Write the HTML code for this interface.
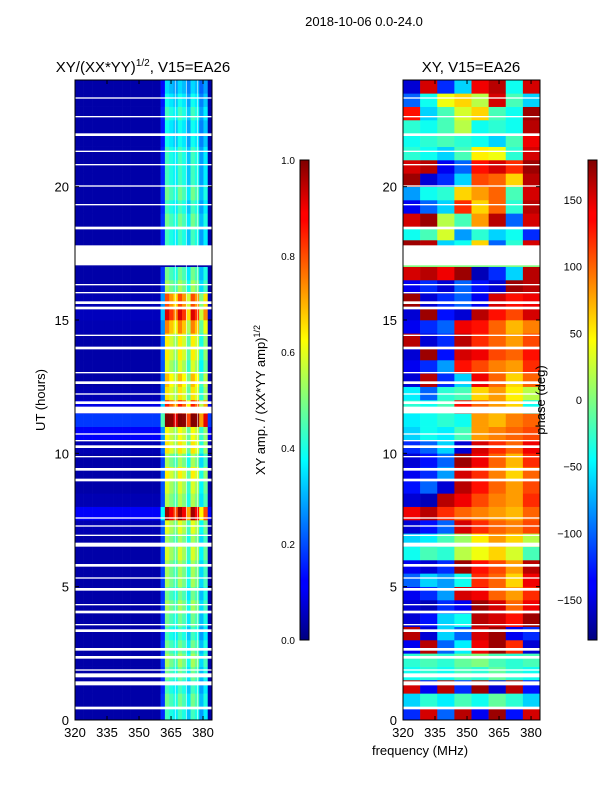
<!DOCTYPE html>
<html><head><meta charset="utf-8"><style>
body{margin:0;background:#fff;}
svg text{font-family:"Liberation Sans",sans-serif;fill:#000;}
</style></head><body>
<svg id="fig" width="600" height="800" xmlns="http://www.w3.org/2000/svg">
<defs>
<linearGradient id="jet" x1="0" y1="1" x2="0" y2="0">
<stop offset="0" stop-color="#00007f"/><stop offset="0.11" stop-color="#0000ff"/><stop offset="0.125" stop-color="#0000ff"/>
<stop offset="0.34" stop-color="#00dcff"/><stop offset="0.375" stop-color="#00ffff"/><stop offset="0.5" stop-color="#7fff7f"/>
<stop offset="0.625" stop-color="#ffff00"/><stop offset="0.66" stop-color="#ffdc00"/><stop offset="0.875" stop-color="#ff0000"/>
<stop offset="0.89" stop-color="#ff0000"/><stop offset="1" stop-color="#7f0000"/>
</linearGradient>
</defs>
<text x="364" y="26" font-size="13" text-anchor="middle">2018-10-06 0.0-24.0</text>
<text x="143" y="72" font-size="15" text-anchor="middle">XY/(XX*YY)<tspan dy="-6" font-size="10">1/2</tspan><tspan dy="6">, V15=EA26</tspan></text>
<text x="471" y="72" font-size="15" text-anchor="middle">XY, V15=EA26</text>
<g id="left"></g>
<g id="right"></g>
<g id="axes"></g>
<text transform="translate(45,400) rotate(-90)" font-size="13" text-anchor="middle">UT (hours)</text>
<text x="420" y="755" font-size="13" text-anchor="middle">frequency (MHz)</text>
<rect x="300" y="160" width="9" height="480" fill="url(#jet)" stroke="#000" stroke-width="1"/>
<rect x="588" y="160" width="9" height="480" fill="url(#jet)" stroke="#000" stroke-width="1"/>
<text transform="translate(265,400) rotate(-90)" font-size="13" text-anchor="middle">XY amp. / (XX*YY amp)<tspan dy="-5" font-size="9">1/2</tspan></text>
<text transform="translate(545,400) rotate(-90)" font-size="13" text-anchor="middle">phase (deg)</text>
</svg>
<script>
const rowGain=[0.4,0.45,0.4,0.45,0.5,0.45,0.4,0.45,0.5,0.45,0.5,0.5,0.55,0.5,0.55,0.85,0.5,0.55,0.6,0.5,0.6,0.5,0.9,0.75,0.6,0.65,0.55,0.6,0.6,0.7,0.85,0.75,0.5,0.45,0,0.4,0.4,0.45,0.4,0.45,0.4,0.4,0.4,0.35,0.35,0.4,0.35,0.3];
const rowBase=[0.04,0.04,0.04,0.04,0.04,0.04,0.04,0.04,0.04,0.04,0.04,0.04,0.04,0.04,0.05,0.12,0.05,0.04,0.04,0.04,0.05,0.12,0.18,0.1,0.05,0.04,0.04,0.04,0.04,0.05,0.06,0.05,0.04,0.04,0.04,0.04,0.04,0.04,0.04,0.04,0.04,0.04,0.04,0.04,0.04,0.04,0.04,0.04];
const colProfile=[0,0,0,0,0,0,0,0,0,0,0,0,0,0,0,0,0,0,0,0,0.3,1.0,0.9,0.8,1.0,0.9,0.7,1.0,0.9,0.6,0.8,0];
const phaseGrid=[
[-120,150,-100,160,-140,170,-130,150],[-60,-30,-50,-20,-40,-10,-30,-60],[150,-140,160,-120,170,-150,160,-130],[-40,-30,-40,-20,-30,-10,-30,-40],
[-30,-20,-30,-10,0,-20,-30,-20],[-140,160,-100,-50,140,170,120,-150],[160,-150,-60,-100,150,170,-140,-120],[-150,-130,-60,-40,160,150,130,170],
[-150,-160,-120,-140,170,150,100,140],[-140,-120,-80,150,140,100,80,120],[-100,-60,-80,-40,120,100,60,140],[-140,-150,-120,170,130,110,80,160],
[-40,-20,-30,20,40,60,30,-20],[-60,-50,-20,10,50,80,60,20],[-150,-130,-100,150,120,100,90,110],[140,160,120,100,90,80,70,100],
[-150,-160,160,140,110,90,80,120],[-130,-100,-150,160,130,100,80,110],[-140,-120,-80,150,120,90,60,100],[-150,-130,-100,170,140,100,70,120],
[-120,-100,-60,-150,150,120,100,140],[-60,-40,-50,-20,80,90,100,110],[-50,-40,-30,-40,80,70,90,100],[-30,-40,-20,130,100,80,60,-40],
[-50,-100,-30,-20,60,80,50,20],[-150,160,-120,-60,140,100,60,100],[-140,-120,-80,130,110,90,80,120],[-150,170,-130,150,140,110,100,130],
[160,-150,-120,160,120,100,80,110],[-140,-120,-100,140,130,100,70,90],[-150,170,-130,-150,160,130,110,150],[170,-150,-120,-100,-140,150,130,140],
[-140,-120,-150,-100,-130,-150,170,160],[150,160,140,170,-160,-120,-60,160],[0,0,0,0,0,0,0,0],[170,160,-60,-40,60,-100,-30,150],
[-40,-20,30,-80,-30,-60,-40,-120],[150,170,20,-20,80,160,-100,150],[-140,-100,-60,120,60,100,-30,160],[-80,-40,-30,60,80,100,-20,150],
[170,-150,-120,-60,110,100,60,160],[150,160,-140,-100,130,150,120,170],[-30,-40,-60,-20,50,40,-30,150],[-40,-30,-20,-30,-40,-60,-20,140],
[-30,-40,-20,20,-40,-30,-40,160],[130,-60,-20,30,60,-20,-40,170],[-100,-40,40,60,20,150,-20,-60],[-150,150,-120,-60,140,160,-40,150]];
const gaps=[[0.4,0.5],[1.3,1.45],[1.6,1.75],[1.85,1.9],[2.3,2.4],[2.6,2.7],[3.3,3.4],[3.55,3.6],[4.0,4.1],[4.3,4.35],[4.85,4.95],[5.3,5.35],[5.75,5.85],[6.5,6.65],[6.9,6.95],[7.25,7.3],[7.55,7.6],[8.95,9.05],[9.35,9.45],[9.85,9.9],[10.2,10.3],[10.45,10.5],[10.7,10.75],[11.5,11.75],[11.85,11.95],[12.2,12.25],[12.6,12.7],[13.0,13.05],[13.9,14.0],[14.4,14.45],[15.4,15.5],[15.6,15.7],[16.0,16.05],[16.3,16.35],[17.05,17.8],[18.4,18.5],[19.3,19.35],[20.0,20.05],[20.8,20.85],[21.3,21.35],[21.9,22.0],[22.6,22.65],[23.3,23.35]];
const yTicks=[0,5,10,15,20];
const xTicks=[320,335,350,365,380];
const ampTicks=[0.0,0.2,0.4,0.6,0.8,1.0];
const phaseTicks=[-150,-100,-50,0,50,100,150];

const NS="http://www.w3.org/2000/svg";
const PY0=80,PY1=720,T0=0,T1=24,F0=320,F1=384.2;
const yOf=t=>PY1-(t-T0)/(T1-T0)*(PY1-PY0);
const xOf=(x0,f)=>x0+(f-F0)/(F1-F0)*137;
function jet(v){v=Math.max(0,Math.min(1,v));const c=a=>Math.round(255*Math.max(0,Math.min(1,1.5-Math.abs(4*v-a))));return `rgb(${c(3)},${c(2)},${c(1)})`;}
function mk(tag,attrs,parent){const e=document.createElementNS(NS,tag);for(const k in attrs)e.setAttribute(k,attrs[k]);parent.appendChild(e);return e;}
const L=document.getElementById('left'),R=document.getElementById('right'),A=document.getElementById('axes');
const dt=24/rowGain.length;
for(let r=0;r<rowGain.length;r++){
  const y0=yOf((r+1)*dt),y1=yOf(r*dt);
  const fw=(F1-F0)/colProfile.length;
  for(let c=0;c<colProfile.length;c++){
    const f=F0+c*fw,xa=xOf(75,f),xb=xOf(75,f+fw);
    const e=mk('rect',{x:xa,y:y0,width:xb-xa+0.3,height:y1-y0+0.3,fill:jet(rowBase[r]+rowGain[r]*colProfile[c])},L);
    
    
  }
  const pw=(F1-F0)/phaseGrid[r].length;
  for(let c=0;c<phaseGrid[r].length;c++){
    const f=F0+c*pw,xa=xOf(403,f),xb=xOf(403,f+pw);
    const e=mk('rect',{x:xa,y:y0,width:xb-xa+0.3,height:y1-y0+0.3,fill:jet((phaseGrid[r][c]+180)/360)},R);
    
    
  }
}
for(const g of gaps){for(const x0 of [75,403]){
  const e=mk('rect',{x:x0,y:yOf(g[1]),width:137,height:yOf(g[0])-yOf(g[1]),fill:'#fff'},A);
  
  
}}
for(const f of [366.8,372.0,377.2]){const e=mk('rect',{x:xOf(75,f),y:PY0,width:1,height:640,fill:'#fff',opacity:0.6},A);
  
  }
for(const x0 of [75,403]){
  const fr=mk('rect',{x:x0,y:PY0,width:137,height:640,fill:'none',stroke:'#000','stroke-width':1},A);
  
  
  for(const t of yTicks){const y=yOf(t);
    mk('line',{x1:x0,x2:x0+4,y1:y,y2:y,stroke:'#000'},A);mk('line',{x1:x0+137,x2:x0+133,y1:y,y2:y,stroke:'#000'},A);
    const tx=mk('text',{x:x0-6,y:y+5,'font-size':13,'text-anchor':'end'},A);tx.textContent=t;
    
    }
  for(const f of xTicks){const x=xOf(x0,f);
    mk('line',{x1:x,x2:x,y1:PY1,y2:PY1-4,stroke:'#000'},A);mk('line',{x1:x,x2:x,y1:PY0,y2:PY0+4,stroke:'#000'},A);
    const tx=mk('text',{x:x,y:737,'font-size':13,'text-anchor':'middle'},A);tx.textContent=f;
    
    }
}
for(const v of ampTicks){const y=640-v*480;
  mk('line',{x1:300,x2:304,y1:y,y2:y,stroke:'#000'},A);
  const tx=mk('text',{x:295,y:y+4,'font-size':10,'text-anchor':'end'},A);tx.textContent=v.toFixed(1);
  
  }
for(const v of phaseTicks){const y=640-(v+180)/360*480;
  mk('line',{x1:588,x2:592,y1:y,y2:y,stroke:'#000'},A);
  const tx=mk('text',{x:582,y:y+4,'font-size':11,'text-anchor':'end'},A);tx.textContent=v<0?'\u2212'+(-v):v;
  
  }
</script>
</body></html>
